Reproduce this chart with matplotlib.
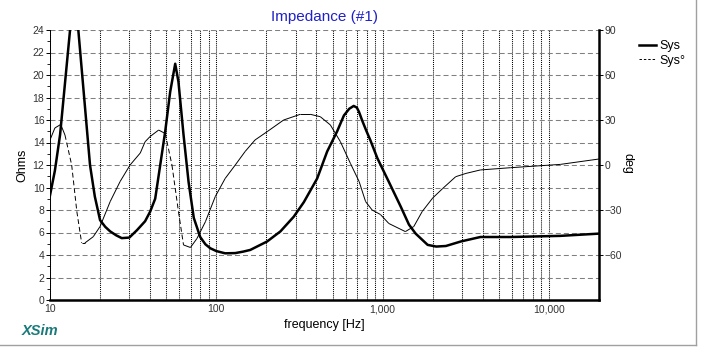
import numpy as np
import matplotlib
matplotlib.use('Agg')
import matplotlib.pyplot as plt
from matplotlib.collections import LineCollection
from matplotlib.lines import Line2D
from matplotlib.ticker import FixedLocator, LogLocator, MultipleLocator, NullFormatter

plt.rcParams['font.family'] = ['Liberation Sans', 'DejaVu Sans']

# impedance magnitude (Ohms)
freq_z = [10, 10.7, 11.5, 13.2, 14.0, 14.8, 17.4, 18.6, 20, 21.5, 23, 25, 27, 30,
          33.3, 37.3, 40, 42.9, 46, 49.3, 52.8, 56.6, 59.2, 63.5, 68.1, 73.2, 80,
          86, 92, 100, 113, 130, 145, 160, 202, 243, 292, 336, 404, 464, 533, 585,
          630, 670, 700, 722, 756, 800, 844, 930, 1090, 1285, 1440, 1580, 1865,
          2100, 2400, 2950, 3870, 5880, 11700, 20000]
ohms = [9.3, 11.5, 14.7, 24.0, 28.0, 24.0, 12.0, 9.2, 7.1, 6.5, 6.1, 5.75, 5.5,
        5.55, 6.2, 7.0, 7.85, 9.0, 12.0, 15.0, 18.5, 21.0, 19.4, 14.7, 10.5, 7.3,
        5.6, 4.95, 4.6, 4.35, 4.15, 4.17, 4.3, 4.45, 5.2, 6.1, 7.4, 8.7, 10.8,
        13.2, 15.0, 16.4, 17.0, 17.25, 17.1, 16.7, 15.9, 15.0, 14.2, 12.6, 10.5,
        8.3, 6.7, 5.9, 4.9, 4.75, 4.8, 5.2, 5.6, 5.6, 5.7, 5.9]

# impedance phase (deg)
freq_p = [10, 10.7, 11.6, 12.3, 13.5, 14.5, 15.5, 16.2, 18.2, 20, 23, 26.4, 30.3,
          34.9, 37.3, 40, 45, 49.3, 54.1, 59.2, 63.5, 69.9, 76.5, 86, 98.6, 113,
          130, 149, 171, 202, 254, 320, 367, 422, 485, 557, 640, 722, 790, 865,
          970, 1090, 1370, 1540, 1730, 2000, 2300, 2750, 3170, 3870, 5880,
          11700, 20000]
phase = [16.7, 24.7, 27.0, 20.0, 0.0, -31.0, -52.0, -52.0, -47.8, -41.0, -24.4,
         -11.0, 0.0, 8.0, 15.5, 19.0, 23.3, 21.0, 0.0, -31.0, -53.3, -55.0, -49.0,
         -37.8, -21.0, -9.0, 0.0, 9.0, 16.7, 22.2, 30.0, 33.8, 33.8, 32.2, 26.7,
         15.6, 1.1, -11.0, -24.4, -30.0, -33.0, -39.0, -44.4, -41.0, -31.0, -22.0,
         -15.6, -7.8, -5.6, -3.3, -1.8, 0.4, 4.0]

xticks = [10, 100, 1000, 10000]
xticklabels = ['10', '100', '1,000', '10,000']

W, H = 701, 347
fig = plt.figure(figsize=(W / 100, H / 100), dpi=100)
ax = fig.add_axes([50 / W, (H - 300) / H, 549 / W, 270 / H])
ax2 = ax.twinx()

ax.set_xscale('log')
ax.set_xlim(10, 20000)
ax.set_ylim(0, 24)
ax2.set_ylim(-90, 90)

# grid: dotted verticals, dashed grey horizontals
ax.xaxis.set_major_locator(FixedLocator(xticks))
ax.set_xticklabels(xticklabels)
ax.xaxis.set_minor_locator(LogLocator(base=10, subs=np.arange(2, 10)))
ax.xaxis.set_minor_formatter(NullFormatter())
ax.grid(True, which='both', axis='x', color='black', lw=0.75, ls=(0, (1, 1)))
ax.yaxis.set_major_locator(MultipleLocator(2))
ax.yaxis.set_minor_locator(MultipleLocator(1))
ax.grid(True, which='major', axis='y', color='#808080', lw=0.75, ls=(0, (4.8, 2.9)))

ax.tick_params(axis='x', which='both', length=0, pad=3, labelsize=7.5, labelcolor='#333333')
ax.tick_params(axis='y', which='major', length=3, width=0.7, pad=1, labelsize=7.5,
               labelcolor='#333333', direction='out')
ax.tick_params(axis='y', which='minor', length=2, width=0.6, direction='out')

ax2.set_yticks([-60, -30, 0, 30, 60, 90])
ax2.tick_params(axis='y', length=3, width=0.7, pad=1, labelsize=7.5,
                labelcolor='#333333', direction='out')

for s in ['top', 'right']:
    ax.spines[s].set_visible(False)
for s in ['top', 'left', 'bottom']:
    ax2.spines[s].set_visible(False)
ax.spines['left'].set_linewidth(0.7)
ax.spines['bottom'].set_linewidth(1.8)
ax2.spines['right'].set_linewidth(1.8)

# impedance curve
zline, = ax.plot(freq_z, ohms, color='black', lw=1.8, solid_joinstyle='round', zorder=3)

# phase curve: steep segments come out dashed like the original
fp = np.array(freq_p)
ph = np.array(phase)
slope = np.abs(np.diff(ph) / np.diff(np.log10(fp)))
pts = np.column_stack([fp, ph])
segs = np.stack([pts[:-1], pts[1:]], axis=1)
styles = [(0, (5, 3)) if s > 400 else 'solid' for s in slope]
lc = LineCollection(segs, colors='black', linewidths=0.7, linestyles=styles, zorder=3)
ax2.add_collection(lc)

# texts
fig.text(324.5 / W, 1 - 17 / H, 'Impedance (#1)', color='#2020c8', fontsize=11,
         ha='center', va='center')
fig.text(22 / W, 1 - 165 / H, 'Ohms', fontsize=9, rotation=90, ha='center', va='center')
fig.text(627 / W, 1 - 163 / H, 'deg', fontsize=9, rotation=270, ha='center', va='center')
fig.text(324.5 / W, 1 - 325 / H, 'frequency [Hz]', fontsize=9, ha='center', va='center')
fig.text(22 / W, 1 - 331 / H, 'XSim', fontsize=10.5, color='#1a7a7a', weight='bold',
         style='italic', ha='left', va='center')

# legend
h2 = Line2D([], [], color='black', lw=0.7, ls=(0, (2.5, 2)))
fig.legend([zline, h2], ['Sys', 'Sys°'], loc='upper left',
           bbox_to_anchor=(633 / W, 1 - 34 / H), frameon=False, fontsize=9,
           handlelength=1.3, handletextpad=0.3, labelspacing=0.2, borderpad=0)

# light grey window border
fig.add_artist(Line2D([0, 696 / W], [1 - 345 / H] * 2, transform=fig.transFigure,
                      color='#a0a0a0', lw=1))
fig.add_artist(Line2D([696 / W] * 2, [1 - 345 / H, 1], transform=fig.transFigure,
                      color='#a0a0a0', lw=1))

fig.savefig('out.png', dpi=100)
